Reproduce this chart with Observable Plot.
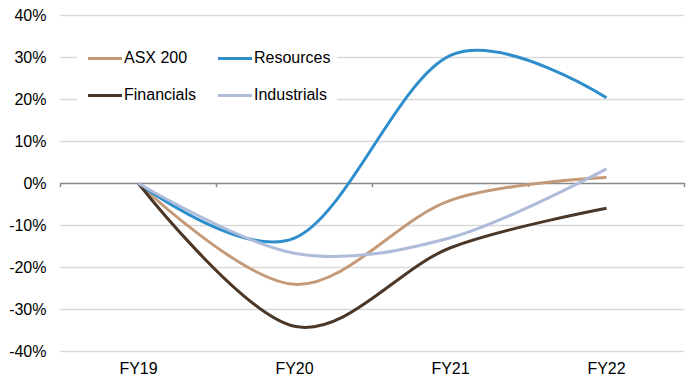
<!DOCTYPE html>
<html>
<head>
<meta charset="utf-8">
<script src="https://cdn.jsdelivr.net/npm/d3@7"></script>
<script src="https://cdn.jsdelivr.net/npm/@observablehq/plot@0.6"></script>
<style>
  html, body { margin: 0; padding: 0; background: #fff; }
  #wrap { position: relative; width: 691px; height: 380px; font-family: "Liberation Sans", Arial, sans-serif; }
  #legend { position: absolute; left: 77px; top: 42px; width: 260px; height: 72px; background: #fff;
            font-size: 16px; color: #000; }
  .item { position: absolute; display: flex; align-items: center; height: 18px; }
  .swatch { width: 34px; height: 3px; margin-right: 2px; }
</style>
</head>
<body>
<div id="wrap"><div id="legend"></div></div>
<script>
const categories = ["FY19", "FY20", "FY21", "FY22"];
const seriesNames = ["ASX 200", "Resources", "Financials", "Industrials"];
const seriesColors = ["#C49A78", "#2E8DCB", "#4A3728", "#AEBCDA"];
const asx200 = [0, -0.240, -0.040, 0.014];
const resources = [0, -0.130, 0.305, 0.204];
const financials = [0, -0.340, -0.153, -0.059];
const industrials = [0, -0.166, -0.129, 0.035];
const yTicks = [-0.4, -0.3, -0.2, -0.1, 0, 0.1, 0.2, 0.3, 0.4];

const seriesValues = [asx200, resources, financials, industrials];
const rows = [];
seriesNames.forEach((name, s) => {
  seriesValues[s].forEach((v, i) => rows.push({series: name, i, v}));
});
const boundaries = d3.range(categories.length + 1).map(k => k - 0.5);

const chart = Plot.plot({
  width: 691,
  height: 380,
  marginLeft: 60,
  marginRight: 7,
  marginTop: 15,
  marginBottom: 29,
  style: {fontFamily: "'Liberation Sans', Arial, sans-serif", fontSize: "16px", color: "#000", background: "#fff"},
  x: {type: "linear", domain: [-0.5, categories.length - 0.5], ticks: d3.range(categories.length),
      tickFormat: i => categories[i], tickSize: 0, tickPadding: 11, label: null},
  y: {domain: [-0.4, 0.4], ticks: yTicks, tickFormat: d => Math.round(d * 100) + "%",
      tickSize: 0, tickPadding: 14, label: null},
  color: {domain: seriesNames, range: seriesColors},
  marks: [
    Plot.ruleY(yTicks.filter(d => d !== 0), {stroke: "#d9d9d9", strokeWidth: 1.5}),
    Plot.ruleY([0], {stroke: "#898989", strokeWidth: 1.5}),
    Plot.ruleX(boundaries, {y1: 0, y2: -0.01, stroke: "#898989", strokeWidth: 1.5}),
    Plot.line(rows, {x: "i", y: "v", z: "series", stroke: "series", curve: "cardinal", tension: 0,
                     strokeWidth: 3, strokeLinejoin: "round", strokeLinecap: "butt"})
  ]
});
document.getElementById("wrap").insertBefore(chart, document.getElementById("legend"));

const legend = document.getElementById("legend");
const pos = [[11, 7], [141, 7], [11, 44], [141, 44]];
seriesNames.forEach((name, s) => {
  const it = document.createElement("div");
  it.className = "item";
  it.style.left = pos[s][0] + "px";
  it.style.top = pos[s][1] + "px";
  const sw = document.createElement("div");
  sw.className = "swatch";
  sw.style.background = seriesColors[s];
  const tx = document.createElement("span");
  tx.textContent = name;
  it.appendChild(sw); it.appendChild(tx);
  legend.appendChild(it);
});
</script>
</body>
</html>
